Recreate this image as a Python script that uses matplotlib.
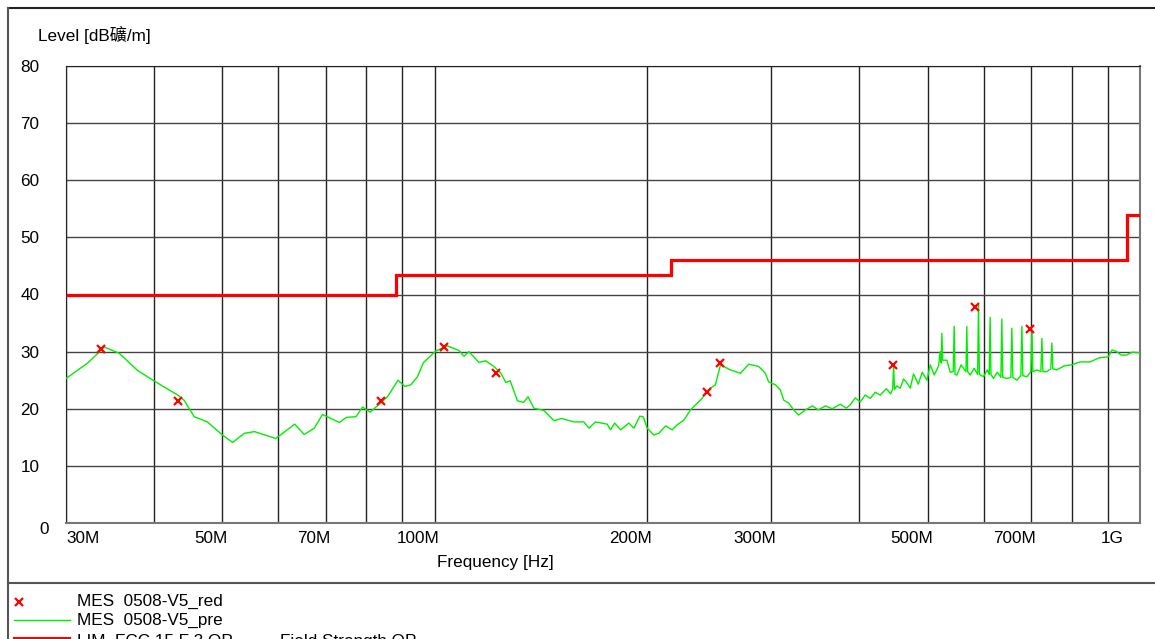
import matplotlib
matplotlib.use("Agg")
import matplotlib.pyplot as plt
import matplotlib.transforms as mtransforms
from matplotlib.lines import Line2D

plt.rcParams['font.family'] = ['Liberation Sans', 'Noto Sans CJK SC', 'DejaVu Sans']

# pre-scan trace (MHz, dBuV/m)
pre_freq = [30, 32.2, 34.0, 35.7, 37.9, 40.2, 43.2, 44.1, 45.6, 47.6,
            50.0, 51.7, 53.7, 55.5, 59.5, 63.3, 65.3, 67.5, 69.3, 73.2,
            75.0, 77.3, 79.0, 81.0, 85.7, 88.7, 90.7, 92.5, 94.5, 96.4, 100.3,
            104.2, 108.2, 110.0, 111.8, 115.5, 118.1, 121.3, 124.0, 126.1, 127.9,
            131.0, 133.6, 135.6, 138.2, 142.8, 147.6, 151.2, 157.5, 162.7, 165.4,
            169.0, 175.6, 177.5, 179.9, 183.5, 188.4, 191.6, 195.3, 197.5, 200.1,
            204.5, 207.8, 212.5, 217.1, 220.7, 225.5, 230.5, 233.0, 238.1, 246.0,
            250.0, 254.2, 262.6, 271.3, 278.7, 288.0, 294.3, 297.5, 304.1, 309.1,
            312.5, 317.6, 322.8, 328.1,
            335.4, 343.1, 349.9, 358.0, 366.2, 375.9, 383.3,
            388.3, 394.7, 401.2, 407.8, 414.6, 421.3, 428.2, 436.7, 443.0, 446.0,
            447.3, 448.6, 452.0, 457.2, 462.0, 466.2, 472.3, 477.4, 484.8, 491.2,
            498.8, 504.1, 510.8, 518.0, 520.8, 522.5, 523.7, 525.0, 532.3, 538.1,
            543.5, 545.1, 546.7, 550.0, 557.7, 566.5, 568.1, 569.7, 574.3, 581.9,
            588.5, 590.2, 591.9, 599.9, 607.1, 611.3, 613.0, 614.7, 619.7, 627.3,
            635.0, 636.9, 638.8, 647.4, 656.0, 658.1, 660.2, 669.0, 677.8, 680.0,
            682.2, 691.2, 700.3, 702.6, 704.9, 714.1, 723.5, 725.9, 728.3, 737.8,
            747.4, 749.9, 752.4, 762.1, 780.5, 800.4, 822.2,
            849.5, 874.7, 901.8, 912.7, 926.8, 939.9, 957.5, 974.3, 1000]
pre_level = [25.3, 28.0, 30.8, 29.7, 26.7, 24.7, 22.4, 21.5, 18.6, 17.7,
             15.4, 14.1, 15.7, 16.0, 14.8, 17.3, 15.5, 16.6, 19.0, 17.6,
             18.5, 18.6, 20.3, 19.4, 22.1, 25.0, 23.9, 24.2, 25.6, 28.1, 30.1,
             31.0, 30.2, 29.2, 30.0, 28.1, 28.4, 27.4, 26.3, 24.6, 24.9,
             21.4, 21.1, 22.1, 20.1, 19.7, 17.9, 18.3, 17.7, 17.7, 16.6,
             17.7, 17.3, 16.3, 17.5, 16.3, 17.5, 16.6, 18.7, 18.6, 16.6,
             15.4, 15.7, 17.0, 16.3, 17.2, 18.0, 19.8, 20.4, 21.5, 23.6,
             24.2, 27.7, 26.8, 26.2, 27.8, 27.4, 26.2, 24.7, 24.2, 23.3,
             21.5, 21.0, 19.8, 18.9,
             19.8, 20.5, 19.8, 20.5, 20.0, 20.8, 20.1,
             20.7, 21.9, 21.2, 22.4, 21.8, 22.9, 22.4, 23.5, 22.6, 23.4,
             27.7, 23.4, 24.0, 23.6, 25.2, 24.7, 23.6, 26.1, 24.3, 26.4,
             25.0, 27.7, 25.9, 27.5, 30.0, 28.0, 33.2, 28.5, 28.5, 26.4,
             26.5, 34.4, 26.0, 25.9, 27.7, 26.5, 34.4, 26.5, 25.9, 27.1,
             26.0, 38.2, 26.0, 25.6, 26.8, 26.0, 36.0, 26.0, 25.3, 26.4,
             25.5, 35.7, 25.5, 25.3, 25.5, 34.1, 25.5, 25.0, 25.8, 34.4,
             25.8, 25.6, 26.5, 33.8, 26.5, 26.8, 26.5, 32.3, 26.5, 26.5,
             27.0, 31.5, 27.0, 26.8, 27.5, 27.7, 28.2,
             28.2, 28.9, 29.1, 30.3, 30.0, 29.4, 29.4, 29.9, 29.8]

# final QP measurements
red_freq = [33.6, 43.3, 83.9, 103, 122, 243.6, 254, 447, 584, 698]
red_level = [30.5, 21.4, 21.4, 30.8, 26.3, 22.9, 28.0, 27.7, 37.8, 34.0]

# FCC 15 class B limit, 3 m
lim_edges = [30, 88, 216, 960, 1000]
lim_level = [40, 43.5, 46, 54]

grid_freq = [30, 40, 50, 60, 70, 80, 90, 100, 200, 300, 400, 500, 600, 700, 800, 900, 1000]
tick_text = {30: "30M", 50: "50M", 70: "70M", 100: "100M", 200: "200M",
             300: "300M", 500: "500M", 700: "700M", 1000: "1G"}
level_ticks = [0, 10, 20, 30, 40, 50, 60, 70, 80]

fig = plt.figure(figsize=(11.55, 6.39), dpi=100)
ax = fig.add_axes([66 / 1155, 1 - 523 / 639, 1074 / 1155, 457 / 639])

ax.set_xscale('log')
ax.set_xlim(30, 1000)
ax.set_ylim(0, 80)

ax.plot(pre_freq, pre_level, color='#00ee00', lw=1.0, zorder=3)
ax.stairs(lim_level, lim_edges, baseline=None, color='#ff0000', lw=2.3, zorder=4)
ax.plot(red_freq, red_level, 'x', color='#ff0000', ms=6, mew=1.6, zorder=5)

ax.set_xticks(grid_freq)
ax.set_xticks([], minor=True)
ax.set_xticklabels([tick_text.get(f, "") for f in grid_freq])
ax.set_yticks(level_ticks)
ax.set_yticklabels([str(v) for v in level_ticks])
ax.tick_params(length=0, labelsize=12.3)
ax.tick_params(axis='x', pad=6)
ax.tick_params(axis='y', pad=19)
ax.grid(True, axis='x', color='#222222', lw=1.0)
ax.grid(True, axis='y', color='#444444', lw=1.0)

for s in ['top', 'left']:
    ax.spines[s].set_color('#222222')
for s in ['bottom', 'right']:
    ax.spines[s].set_color('#777777')
    ax.spines[s].set_linewidth(1.5)

# tick label placement like the original report
for f, lab in zip(grid_freq, ax.get_xticklabels()):
    if f == 30:
        lab.set_ha('left')
        dx = 0
    elif f == 1000:
        lab.set_ha('right')
        dx = -16
    else:
        lab.set_ha('right')
        dx = 5
    lab.set_transform(lab.get_transform() + mtransforms.ScaledTranslation(dx / 100, 0, fig.dpi_scale_trans))
for v, lab in zip(level_ticks, ax.get_yticklabels()):
    if v == 0:
        lab.set_transform(lab.get_transform() + mtransforms.ScaledTranslation(9 / 100, -5 / 100, fig.dpi_scale_trans))

fig.text(38 / 1155, 1 - 34.5 / 639, "Level [dB礦/m]", fontsize=12.3, ha='left', va='center')
fig.text(495 / 1155, 1 - 562 / 639, "Frequency [Hz]", fontsize=12.3, ha='center', va='center')

# frame
fig.add_artist(Line2D([8 / 1155, 1], [1 - 8 / 639, 1 - 8 / 639], color='#222222', lw=1.5))
fig.add_artist(Line2D([8 / 1155, 8 / 1155], [0, 1 - 8 / 639], color='#555555', lw=1.5))
fig.add_artist(Line2D([8 / 1155, 1], [1 - 583 / 639, 1 - 583 / 639], color='#555555', lw=1.5))

# legend block
fig.add_artist(Line2D([19 / 1155], [1 - 602 / 639], marker='x', color='#ff0000', ms=6, mew=1.6, ls='none'))
fig.text(77 / 1155, 1 - 601 / 639, "MES  0508-V5_red", fontsize=12.3, ha='left', va='center')
fig.add_artist(Line2D([14 / 1155, 70 / 1155], [1 - 620 / 639, 1 - 620 / 639], color='#00ee00', lw=1.0))
fig.text(77 / 1155, 1 - 620 / 639, "MES  0508-V5_pre", fontsize=12.3, ha='left', va='center')
fig.add_artist(Line2D([14 / 1155, 70 / 1155], [1 - 638 / 639, 1 - 638 / 639], color='#ff0000', lw=1.5))
fig.text(77 / 1155, 1 - 646 / 639, "LIM  FCC 15 F 3 QP", fontsize=12.3, ha='left', va='baseline')
fig.text(280 / 1155, 1 - 646 / 639, "Field Strength QP", fontsize=12.3, ha='left', va='baseline')

fig.savefig("out.png", dpi=100)
